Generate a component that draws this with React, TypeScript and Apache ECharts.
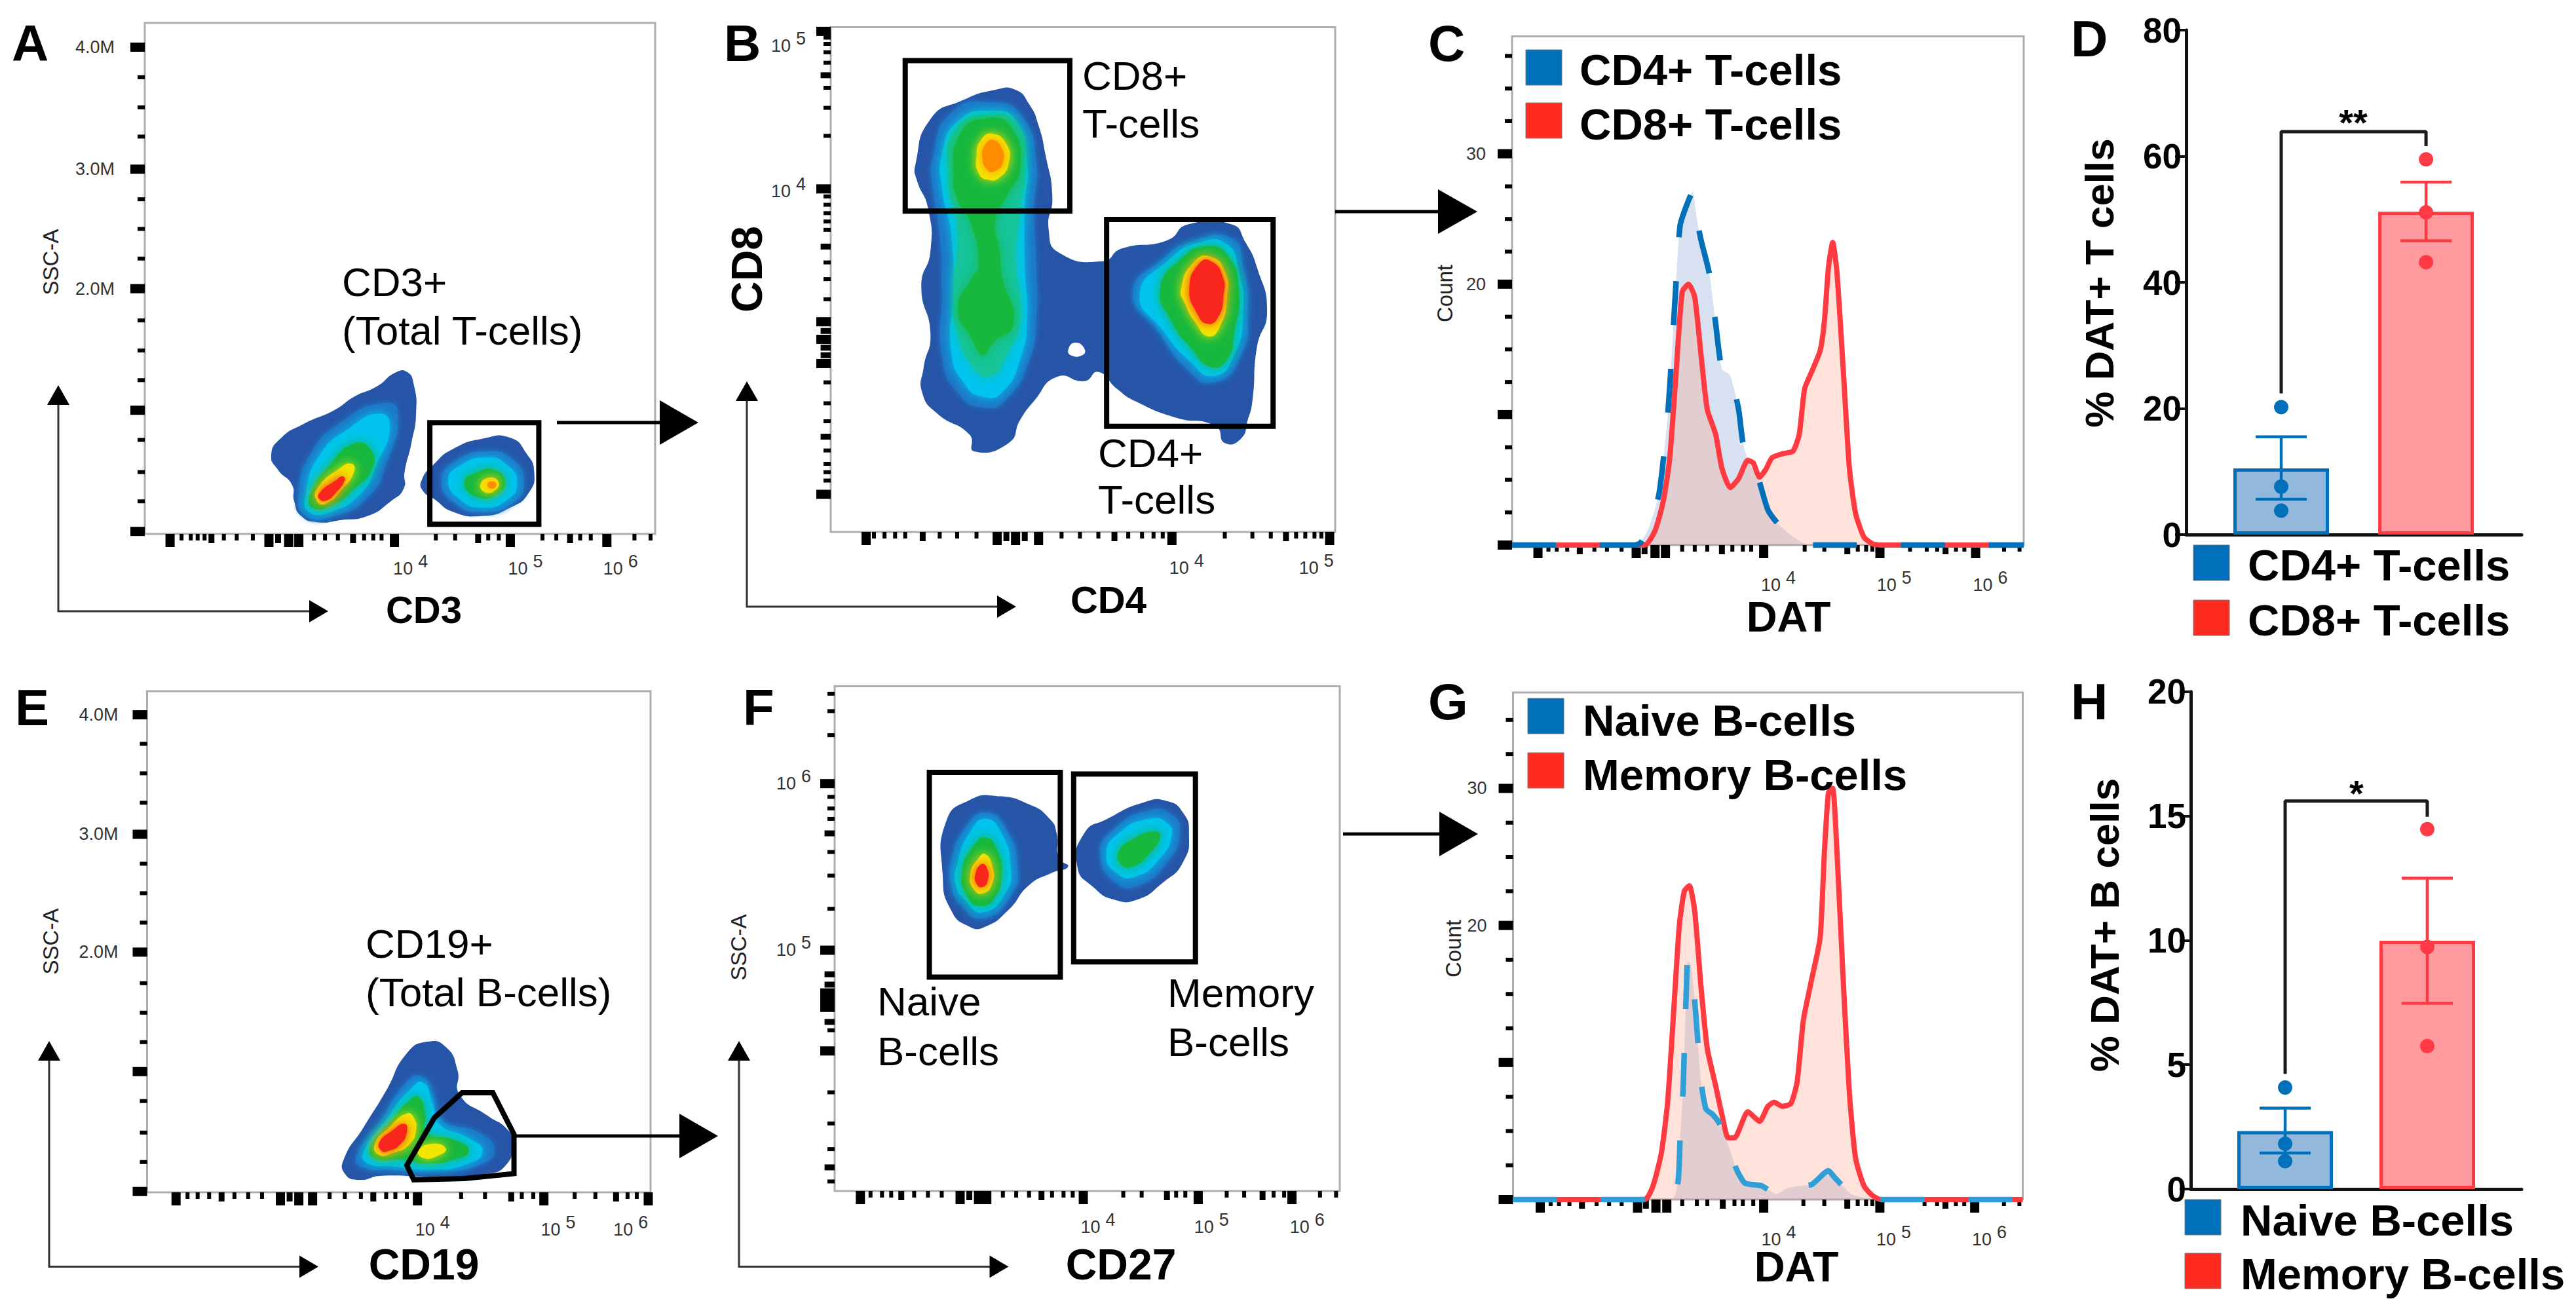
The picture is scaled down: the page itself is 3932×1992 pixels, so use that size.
import React, { useEffect, useRef } from "react";
import * as echarts from "echarts";

const FONT = '"Liberation Sans", Arial, sans-serif';
const BLUE = "#0070ba";
const RED = "#ff2a20";
const DEEP = "#2655a8", MID = "#1c78c8", CYAN = "#00c4ee", TEAL = "#12c49a", GREEN = "#14b83c", YELLOW = "#f2e600", ORANGE = "#ff8c00", SCARLET = "#f8261a";

// ---------- display-channel data ----------
type P = number[][];
const A_X_TICKS = [[370,2],[395,0],[415,0],[430,0],[445,0],[460,1],[487,0],[515,0],[550,0],[585,2],[605,1],[628,2],[650,2],[683,0],[707,0],[735,0],[768,1],[792,0],[812,0],[830,0],[858,2],[948,0],[990,0],[1040,1],[1062,0],[1085,0],[1110,2],[1180,0],[1210,0],[1240,1],[1262,0],[1285,0],[1320,2],[1380,0],[1415,0]];
const A_Y_TICKS = [[113,2],[405,2],[691,2],[982,2],[1272,2],[185,0],[257,0],[327,0],[477,0],[548,0],[619,0],[767,0],[839,0],[910,0],[1053,0],[1130,0],[1200,0]];
const A_X_LABELS: [number, string][] = [[893,"4"],[1143,"5"],[1350,"6"]];
const A_Y_LABELS: [number, string][] = [[113,"4.0M"],[405,"3.0M"],[691,"2.0M"]];
const A_BLOBS: [string, P][] = [
  [DEEP, [[590,1090],[610,1050],[660,1015],[730,980],[770,950],[820,925],[860,892],[885,890],[900,920],[905,990],[895,1060],[880,1130],[878,1170],[850,1200],[800,1235],[740,1245],[690,1250],[655,1235],[640,1200],[635,1160],[605,1125]]],
  [MID, [[650,1180],[680,1080],[750,1005],[830,965],[865,985],[840,1110],[800,1190],[725,1235],[665,1235]]],
  [CYAN, [[665,1185],[695,1090],[760,1025],[825,990],[848,1020],[820,1110],[785,1180],[720,1225],[672,1225]]],
  [GREEN, [[675,1185],[720,1110],[770,1062],[805,1075],[810,1120],[770,1170],[720,1210],[680,1215]]],
  [YELLOW, [[690,1170],[740,1120],[765,1110],[770,1130],[745,1170],[710,1205],[690,1200]]],
  [SCARLET, [[695,1180],[730,1150],[745,1140],[750,1150],[730,1180],[710,1198],[695,1195]]],
  [DEEP, [[917,1150],[945,1110],[985,1075],[1050,1050],[1110,1048],[1145,1085],[1162,1130],[1150,1180],[1110,1215],[1050,1235],[985,1225],[945,1195],[920,1175]]],
  [MID, [[960,1150],[990,1105],[1060,1080],[1115,1100],[1140,1155],[1115,1205],[1050,1225],[990,1205]]],
  [CYAN, [[975,1150],[1000,1115],[1060,1095],[1105,1115],[1125,1155],[1105,1195],[1050,1215],[1000,1195]]],
  [GREEN, [[1010,1155],[1040,1130],[1075,1125],[1098,1150],[1085,1180],[1040,1190]]],
  [YELLOW, [[1045,1160],[1065,1143],[1085,1155],[1075,1175],[1055,1178]]],
  [ORANGE, [[1060,1160],[1070,1152],[1080,1160],[1070,1170]]],
];
const A_GATES: P[] = [[[935,1012],[1172,1012],[1172,1255],[935,1255]]];

const B_X_TICKS = [[345,2],[362,0],[385,0],[408,0],[430,0],[468,1],[505,0],[543,0],[585,0],[630,2],[650,1],[670,2],[690,1],[720,2],[770,0],[810,0],[850,0],[885,1],[915,0],[945,0],[970,0],[990,0],[1010,2],[1125,0],[1185,0],[1225,0],[1258,1],[1280,0],[1300,0],[1320,0],[1335,0],[1353,2]];
const B_Y_TICKS = [[75,2],[452,2],[1183,2],[180,1],[590,1],[90,0],[105,0],[125,0],[150,0],[210,0],[258,0],[325,0],[470,0],[490,0],[510,0],[530,0],[550,0],[628,0],[668,0],[716,0],[770,2],[792,1],[812,2],[832,1],[850,1],[870,2],[915,0],[965,0],[1008,0],[1045,1],[1078,0],[1110,0],[1130,0],[1150,0]];
const B_X_LABELS: [number, string][] = [[1042,"4"],[1324,"5"]];
const B_Y_LABELS: [number, string][] = [[110,"5"],[458,"4"]];
const B_BLOBS: [string, P][] = [
  [DEEP, [[452,395],[485,285],[555,240],[625,215],[670,215],[700,250],[720,300],[735,370],[750,470],[742,550],[765,605],[860,625],[900,595],[1000,575],[1045,537],[1140,537],[1170,580],[1195,640],[1217,745],[1195,830],[1185,960],[1175,1005],[1160,1050],[1125,1060],[1105,1020],[1020,1000],[930,960],[890,930],[850,890],[820,912],[760,902],[710,960],[680,1005],[655,1060],[580,1080],[570,1040],[500,990],[467,940],[470,880],[485,800],[465,685],[485,600],[480,500],[455,430]]],
  ["#ffffff", [[785,835],[800,820],[820,835],[815,850],[790,850]]],
  [MID, [[490,380],[530,270],[620,245],[685,280],[715,390],[710,500],[715,640],[715,760],[700,860],[650,955],[600,975],[545,940],[510,850],[510,700],[505,560],[490,450]]],
  [CYAN, [[510,370],[545,290],[620,265],[670,290],[695,390],[690,490],[690,640],[695,760],[680,860],[640,940],[600,950],[560,920],[530,840],[535,700],[530,560],[510,450]]],
  [TEAL, [[525,420],[540,310],[620,275],[675,300],[690,400],[680,500],[670,620],[680,760],[650,850],[615,900],[580,880],[545,800],[535,700],[545,560]]],
  [GREEN, [[535,430],[550,320],[610,283],[660,305],[680,400],[650,470],[625,530],[635,600],[640,660],[665,775],[620,820],[600,850],[575,810],[545,740],[575,665],[590,640],[575,540],[545,480]]],
  [YELLOW, [[585,375],[595,335],[620,320],[650,345],[655,390],[635,425],[610,430],[590,415]]],
  [ORANGE, [[598,375],[605,345],[622,335],[640,355],[643,385],[628,408],[610,408]]],
  [MID, [[925,700],[990,620],[1050,580],[1140,570],[1165,640],[1175,740],[1160,850],[1100,915],[1040,880],[980,790]]],
  [CYAN, [[940,705],[1000,625],[1070,580],[1130,585],[1155,650],[1165,740],[1145,850],[1100,900],[1045,860],[990,790]]],
  [GREEN, [[985,690],[1030,620],[1085,590],[1130,610],[1155,690],[1145,800],[1130,860],[1095,878],[1050,830],[1010,770]]],
  [YELLOW, [[1030,690],[1060,625],[1095,615],[1125,650],[1130,710],[1115,780],[1090,805],[1060,770],[1040,730]]],
  [SCARLET, [[1048,690],[1070,630],[1095,625],[1120,660],[1122,710],[1110,760],[1088,775],[1065,750]]],
];
const B_GATES: P[] = [[[430,145],[788,145],[788,505],[430,505]], [[868,525],[1230,525],[1230,1020],[868,1020]]];

const E_X_TICKS = [[383,2],[408,0],[430,0],[455,0],[482,1],[510,0],[540,0],[570,0],[610,2],[630,1],[650,2],[680,2],[717,0],[750,0],[785,0],[812,1],[840,0],[860,0],[885,0],[908,2],[1003,0],[1055,0],[1112,1],[1135,0],[1160,0],[1183,2],[1250,0],[1295,0],[1340,1],[1365,0],[1385,0],[1410,2]];
const E_Y_TICKS = [[144,2],[432,2],[716,2],[1004,2],[1293,2],[214,0],[285,0],[356,0],[503,0],[574,0],[645,0],[791,0],[862,0],[933,0],[1075,0],[1151,0],[1222,0]];
const E_X_LABELS: [number, string][] = [[941,"4"],[1214,"5"],[1372,"6"]];
const E_Y_LABELS: [number, string][] = [[144,"4.0M"],[432,"3.0M"],[716,"2.0M"]];
const E_BLOBS: [string, P][] = [
  [DEEP, [[748,1215],[790,1140],[840,1050],[885,960],[930,932],[970,945],[995,1000],[1000,1060],[1060,1110],[1105,1145],[1115,1180],[1100,1230],[1060,1250],[950,1258],[830,1255],[780,1265],[750,1250]]],
  [MID, [[775,1210],[830,1120],[880,1035],[915,1015],[940,1060],[960,1120],[1040,1150],[1075,1190],[1050,1225],[950,1245],[850,1240],[790,1235]]],
  [CYAN, [[790,1200],[840,1120],[890,1050],[920,1030],[940,1080],[955,1130],[1020,1165],[1050,1195],[1020,1225],[940,1240],[850,1232],[800,1225]]],
  [GREEN, [[805,1190],[850,1125],[890,1075],[910,1065],[925,1110],[925,1150],[990,1170],[1020,1195],[990,1215],[930,1225],[870,1215],[820,1215]]],
  [YELLOW, [[815,1180],[850,1135],[885,1105],[900,1115],[905,1145],[890,1180],[855,1200],[825,1205]]],
  [YELLOW, [[910,1195],[940,1178],[970,1190],[950,1208],[920,1212]]],
  [SCARLET, [[825,1175],[855,1145],[880,1130],[885,1150],[870,1180],[845,1195],[830,1195]]],
];
const E_GATES: P[] = [[[885,1230],[945,1115],[1005,1055],[1072,1055],[1118,1155],[1118,1250],[1010,1262],[900,1265]]];

const F_X_TICKS = [[333,2],[355,0],[380,0],[400,0],[422,1],[450,0],[480,0],[510,0],[550,2],[570,1],[590,2],[608,2],[643,0],[672,0],[700,0],[727,1],[750,0],[775,0],[795,0],[818,2],[905,0],[945,0],[1000,1],[1020,0],[1040,0],[1068,2],[1130,0],[1168,0],[1208,1],[1232,0],[1255,0],[1272,2],[1333,0],[1368,0]];
const F_Y_TICKS = [[310,2],[712,2],[955,2],[430,1],[93,0],[135,0],[193,0],[342,0],[370,0],[395,0],[475,0],[532,0],[612,0],[770,1],[795,1],[815,2],[835,2],[850,2],[885,1],[905,0],[1055,0],[1130,0],[1192,0],[1236,1],[1270,0]];
const F_X_LABELS: [number, string][] = [[850,"4"],[1097,"5"],[1305,"6"]];
const F_Y_LABELS: [number, string][] = [[310,"6"],[712,"5"]];
const F_BLOBS: [string, P][] = [
  [DEEP, [[520,400],[570,350],[630,340],[700,360],[745,395],[760,430],[765,490],[785,510],[750,525],[700,555],[655,615],[605,655],[570,655],[530,615],[512,530]]],
  [MID, [[530,500],[560,420],[605,380],[650,420],[675,510],[660,580],[600,635],[550,600],[530,550]]],
  [CYAN, [[545,500],[570,430],[605,395],[640,430],[660,510],[650,570],[600,620],[560,590],[540,550]]],
  [GREEN, [[555,520],[580,460],[605,440],[630,470],[640,530],[625,585],[595,605],[565,580]]],
  [YELLOW, [[572,530],[590,490],[605,480],[620,510],[620,550],[600,575],[580,565]]],
  [SCARLET, [[583,530],[595,505],[607,510],[610,545],[597,560],[585,550]]],
  [DEEP, [[805,510],[820,430],[870,395],[950,355],[1000,352],[1035,380],[1048,430],[1035,500],[990,550],[935,590],[885,590],[840,560]]],
  [MID, [[855,480],[885,420],[960,375],[1010,385],[1028,430],[1000,500],[940,555],[890,550]]],
  [CYAN, [[868,480],[895,430],[960,395],[1000,405],[1010,435],[985,490],[930,535],[890,525]]],
  [GREEN, [[895,475],[925,445],[975,425],[985,440],[960,480],[925,510],[900,505]]],
];
const F_GATES: P[] = [[[483,283],[768,283],[768,777],[483,777]], [[797,287],[1062,287],[1062,740],[797,740]]];

const C_X_TICKS = [[310,2],[335,0],[355,0],[380,0],[410,1],[445,0],[475,0],[510,0],[545,2],[565,1],[590,2],[615,2],[655,0],[685,0],[715,0],[750,1],[775,0],[800,0],[820,0],[850,2],[948,0],[995,0],[1050,1],[1075,0],[1095,0],[1110,0],[1128,2],[1200,0],[1240,0],[1265,0],[1285,1],[1310,0],[1330,0],[1357,2],[1425,0],[1462,0]];
const C_Y_TICKS = [[0,2],[10,2],[20,2],[30,2],[2.5,0],[5,0],[7.5,0],[12.5,0],[15,0],[17.5,0],[22.5,0],[25,0],[27.5,0],[32.5,0],[35,0],[37.5,0]];
const C_X_LABELS: [number, string][] = [[885,"4"],[1162,"5"],[1392,"6"]];
const C_Y_LABELS: [number, string][] = [[20,"20"],[30,"30"]];
const C_CD4: P = [[248,0],[540,0],[555,0.16],[575,1.3],[600,4],[620,9.8],[630,14.6],[640,20],[650,24.5],[665,26],[680,27.1],[690,25],[700,23.4],[720,20.8],[735,17],[750,13.5],[770,13],[790,10.4],[800,7.9],[815,6.3],[835,5.3],[860,2.7],[885,1.6],[920,0.64],[960,0],[1472,0]];
const C_CD8: P = [[248,0],[565,0],[590,1.1],[610,3.4],[625,6.6],[640,13],[655,19.4],[670,20],[685,19],[700,14.6],[715,10.4],[735,8.5],[750,5.9],[770,4.4],[790,5.1],[812,6.5],[825,6.3],[840,5.2],[855,5.8],[870,6.7],[895,7],[920,7.2],[935,8.5],[948,12],[965,13.3],[985,14.9],[995,17.1],[1005,21.3],[1015,23.2],[1025,21],[1040,13.6],[1055,5.9],[1070,2.4],[1090,0.6],[1110,0.1],[1130,0],[1472,0]];

const G_X_TICKS = [[315,2],[340,0],[360,0],[385,0],[415,1],[450,0],[480,0],[510,0],[548,2],[568,1],[592,2],[618,2],[655,0],[690,0],[715,0],[752,1],[780,0],[800,0],[825,0],[850,2],[945,0],[995,0],[1050,1],[1075,0],[1095,0],[1110,0],[1128,2],[1235,0],[1265,0],[1285,1],[1310,0],[1330,0],[1355,2],[1425,0],[1462,0]];
const G_Y_TICKS = [[0,2],[10,2],[20,2],[30,2],[2.5,0],[5,0],[7.5,0],[12.5,0],[15,0],[17.5,0],[22.5,0],[25,0],[27.5,0],[32.5,0],[35,0]];
const G_X_LABELS: [number, string][] = [[886,"4"],[1161,"5"],[1390,"6"]];
const G_Y_LABELS: [number, string][] = [[20,"20"],[30,"30"]];
const G_NAIVE: P = [[250,0],[630,0],[645,1.3],[650,4.5],[657,8],[660,11],[665,15.5],[668,17.4],[675,17.2],[682,15.5],[690,12.5],[700,8.6],[712,6.6],[728,6.2],[745,5.5],[765,4],[785,2.2],[805,1.2],[845,1],[880,0.4],[905,0.8],[935,1],[965,1.1],[1005,2.1],[1020,1.6],[1060,0.4],[1105,0.06],[1125,0],[1470,0]];
const G_MEMORY: P = [[250,0],[565,0],[585,1],[605,3.4],[620,7.1],[635,14],[648,20],[660,22.5],[672,22.9],[685,21],[700,15.5],[715,11],[735,8.3],[750,6.2],[765,4.5],[780,4.5],[812,6.4],[840,5.7],[860,6.8],[875,7.1],[895,6.8],[915,7],[930,8.6],[945,13.1],[965,16.1],[985,19.1],[995,25.2],[1005,29.7],[1015,30],[1025,25.6],[1040,16.2],[1055,7.8],[1070,3],[1090,1],[1110,0.3],[1130,0],[1470,0]];

// bar panels
const D_MEANS = [10.5, 51.2];
const D_ERRORS = [[5.6, 15.5], [46.6, 55.9]];
const D_POINTS = [[20.2, 7.6, 3.8], [59.5, 51.1, 43.2]];
const D_BRACKET = [[1, 22.4], [1, 63.9], [2, 63.9], [2, 61.6]];
const H_MEANS = [2.33, 9.98];
const H_ERRORS = [[1.45, 3.25], [7.47, 12.5]];
const H_POINTS = [[4.08, 1.82, 1.12], [14.47, 9.73, 5.75]];
const H_BRACKET = [[1, 4.63], [1, 15.6], [2, 15.6], [2, 14.97]];

// ---------- layout ----------
const FRAME = {
  A: { l: 221, t: 35, r: 1000, b: 815, x: [315, 1425], y: [55, 1278] },
  B: { l: 1268, t: 41.5, r: 2038, b: 812, x: [268, 1365], y: [65, 1273] },
  C: { l: 2308, t: 55.5, r: 3089, b: 832, x: [248, 1472], y: [0, 39] },
  E: { l: 224.5, t: 1055, r: 993, b: 1820, x: [320, 1415], y: [87, 1295] },
  F: { l: 1274, t: 1047.5, r: 2045, b: 1818, x: [277, 1376], y: [75, 1293] },
  G: { l: 2309.5, t: 1057, r: 3087.5, b: 1831, x: [250, 1470], y: [0, 37] },
};

const TICK_SIZE = [[6, 10], [9, 14], [14, 20]];

function App() {
  const ref = useRef<HTMLDivElement>(null);
  useEffect(() => {
    const chart = echarts.init(ref.current!, null, { renderer: "svg" });
    const grids: any[] = [], xAxes: any[] = [], yAxes: any[] = [], series: any[] = [];

    const decade = (e: string) => `{b|10}{s|${e}}`;
    const sup = { b: { fontSize: 27, color: "#333", fontFamily: FONT }, s: { fontSize: 27, color: "#333", fontFamily: FONT, padding: [0, 0, 22, 8] } };

    function flowPanel(f: any, o: { xT: P; yT: P; xL: [number, string][]; yL: [number, string][]; yDecade?: boolean; inverse: boolean; lm: number; xm: number }) {
      const i = grids.length;
      grids.push({ left: f.l, top: f.t, width: f.r - f.l, height: f.b - f.t, show: true, borderColor: "#adadad", borderWidth: 3, backgroundColor: "transparent" });
      const xMap = new Map(o.xL), yMap = new Map(o.yL);
      xAxes.push({
        gridIndex: i, type: "value", min: f.x[0], max: f.x[1], splitLine: { show: false }, axisLine: { show: false }, axisTick: { show: false },
        axisLabel: { customValues: o.xL.map((d) => d[0]), margin: o.xm, formatter: (v: number) => decade(xMap.get(v) ?? ""), rich: sup },
      });
      yAxes.push({
        gridIndex: i, type: "value", min: f.y[0], max: f.y[1], inverse: o.inverse, splitLine: { show: false }, axisLine: { show: false }, axisTick: { show: false },
        axisLabel: {
          customValues: o.yL.map((d) => d[0]), margin: o.lm, fontSize: 27, color: "#333", fontFamily: FONT,
          formatter: (v: number) => (o.yDecade ? decade(yMap.get(v) ?? "") : yMap.get(v) ?? ""), rich: sup,
        },
      });
      series.push({
        type: "custom", xAxisIndex: i, yAxisIndex: i, silent: true, data: o.xT,
        renderItem: (p: any, api: any) => {
          const [w, h] = TICK_SIZE[api.value(1)];
          const x = api.coord([api.value(0), f.y[0]])[0];
          return { type: "rect", shape: { x: x - w / 2, y: p.coordSys.y + p.coordSys.height, width: w, height: h }, style: { fill: "#000" } };
        },
      });
      series.push({
        type: "custom", xAxisIndex: i, yAxisIndex: i, silent: true, data: o.yT.map((d) => [f.x[0], d[0], d[1]]), encode: { x: 0, y: 1 },
        renderItem: (p: any, api: any) => {
          const [h, w] = TICK_SIZE[api.value(2)];
          const y = api.coord([f.x[0], api.value(1)])[1];
          return { type: "rect", shape: { x: p.coordSys.x - w * 1.1, y: y - h / 2, width: w * 1.1, height: h }, style: { fill: "#000" } };
        },
      });
      return i;
    }

    function contours(i: number, blobs: [string, P][], gates: P[]) {
      series.push({
        type: "custom", xAxisIndex: i, yAxisIndex: i, silent: true, data: blobs.map((_, k) => [k]), encode: { x: 0 },
        renderItem: (p: any, api: any) => {
          const [fill, pts] = blobs[p.dataIndex];
          const soft = fill !== DEEP && fill !== "#ffffff";
          return {
            type: "polygon", shape: { points: pts.map((q) => api.coord(q)), smooth: 0.55 },
            style: { fill, ...(soft ? { shadowBlur: fill === MID ? 10 : 16, shadowColor: fill } : {}) },
          };
        },
      });
      series.push({
        type: "custom", xAxisIndex: i, yAxisIndex: i, silent: true, z: 4, data: gates.map((_, k) => [k]), encode: { x: 0 },
        renderItem: (p: any, api: any) => ({
          type: "polygon", shape: { points: gates[p.dataIndex].map((q) => api.coord(q)) },
          style: { fill: "none", stroke: "#000", lineWidth: 8, lineJoin: "miter" },
        }),
      });
    }

    function histogram(i: number, solid: P, dashed: P, dashColor: string, solidFill: string, dashFill: string) {
      series.push({ type: "line", xAxisIndex: i, yAxisIndex: i, data: dashed, showSymbol: false, smooth: 0.2, clip: false, lineStyle: { width: 0 }, areaStyle: { color: dashFill }, z: 2 });
      series.push({ type: "line", xAxisIndex: i, yAxisIndex: i, data: solid, showSymbol: false, smooth: 0.2, clip: false, lineStyle: { color: "#ff3a40", width: 8 }, areaStyle: { color: solidFill }, z: 3 });
      series.push({ type: "line", xAxisIndex: i, yAxisIndex: i, data: dashed, showSymbol: false, smooth: 0.2, clip: false, lineStyle: { color: dashColor, width: 8.5, type: [67, 67] }, z: 4 });
    }

    function barPanel(l: number, t: number, r: number, b: number, xr: number[], ymax: number, step: number, means: number[], errs: number[][], pts: number[][], bracket: P) {
      const i = grids.length;
      grids.push({ left: l, top: t, width: r - l, height: b - t });
      xAxes.push({ gridIndex: i, type: "value", min: xr[0], max: xr[1], splitLine: { show: false }, axisTick: { show: false }, axisLabel: { show: false }, axisLine: { lineStyle: { color: "#111", width: 5 } } });
      yAxes.push({
        gridIndex: i, type: "value", min: 0, max: ymax, interval: step, splitLine: { show: false },
        axisLine: { show: true, lineStyle: { color: "#111", width: 5 } }, axisTick: { length: 17, lineStyle: { color: "#111", width: 4 } },
        axisLabel: { fontSize: 53, fontWeight: "bold", color: "#000", margin: 7, fontFamily: FONT },
      });
      const stroke = [BLUE, "#ff3a44"], fill = ["#92b8db", "#ff9a9f"];
      series.push({
        type: "bar", xAxisIndex: i, yAxisIndex: i, barWidth: 146,
        data: means.map((m, k) => ({ value: [k + 1, m], itemStyle: { color: fill[k], borderColor: stroke[k], borderWidth: 5 } })),
      });
      series.push({
        type: "custom", xAxisIndex: i, yAxisIndex: i, silent: true, z: 5, data: errs.map((e, k) => [k + 1, e[0], e[1]]), encode: { x: 0, y: [1, 2] },
        renderItem: (p: any, api: any) => {
          const x = api.value(0), c = stroke[p.dataIndex];
          const lo = api.coord([x, api.value(1)]), hi = api.coord([x, api.value(2)]);
          const line = (a: number[], q: number[]) => ({ type: "line", shape: { x1: a[0], y1: a[1], x2: q[0], y2: q[1] }, style: { stroke: c, lineWidth: 4.5 } });
          return {
            type: "group",
            children: [line(lo, hi), line([lo[0] - 39, lo[1]], [lo[0] + 39, lo[1]]), line([hi[0] - 39, hi[1]], [hi[0] + 39, hi[1]])],
          };
        },
      });
      pts.forEach((vals, k) =>
        series.push({ type: "scatter", xAxisIndex: i, yAxisIndex: i, symbolSize: 22, z: 6, itemStyle: { color: stroke[k], opacity: 1 }, data: vals.map((v) => [k + 1, v]) }),
      );
      series.push({ type: "line", xAxisIndex: i, yAxisIndex: i, data: bracket, showSymbol: false, z: 6, lineStyle: { color: "#1a1a1a", width: 5 } });
    }

    const a = flowPanel(FRAME.A, { xT: A_X_TICKS, yT: A_Y_TICKS, xL: A_X_LABELS, yL: A_Y_LABELS, inverse: true, lm: 46, xm: 28 });
    contours(a, A_BLOBS, A_GATES);
    const b = flowPanel(FRAME.B, { xT: B_X_TICKS, yT: B_Y_TICKS, xL: B_X_LABELS, yL: B_Y_LABELS, yDecade: true, inverse: true, lm: 38, xm: 30 });
    contours(b, B_BLOBS, B_GATES);
    const c = flowPanel(FRAME.C, { xT: C_X_TICKS, yT: C_Y_TICKS, xL: C_X_LABELS, yL: C_Y_LABELS, inverse: false, lm: 40, xm: 36 });
    histogram(c, C_CD8, C_CD4, BLUE, "rgba(255,150,120,0.38)", "rgba(130,160,215,0.45)");
    barPanel(3337, 46, 3849, 816, [0.344, 2.66], 80, 20, D_MEANS, D_ERRORS, D_POINTS, D_BRACKET);
    const e = flowPanel(FRAME.E, { xT: E_X_TICKS, yT: E_Y_TICKS, xL: E_X_LABELS, yL: E_Y_LABELS, inverse: true, lm: 44, xm: 32 });
    contours(e, E_BLOBS, E_GATES);
    const f = flowPanel(FRAME.F, { xT: F_X_TICKS, yT: F_Y_TICKS, xL: F_X_LABELS, yL: F_Y_LABELS, yDecade: true, inverse: true, lm: 36, xm: 30 });
    contours(f, F_BLOBS, F_GATES);
    const g = flowPanel(FRAME.G, { xT: G_X_TICKS, yT: G_Y_TICKS, xL: G_X_LABELS, yL: G_Y_LABELS, inverse: false, lm: 40, xm: 36 });
    histogram(g, G_MEMORY, G_NAIVE, "#2f9fd8", "rgba(255,150,120,0.38)", "rgba(130,160,215,0.45)");
    barPanel(3344, 1055.7, 3849, 1815, [0.336, 2.664], 20, 5, H_MEANS, H_ERRORS, H_POINTS, H_BRACKET);

    // annotation layer
    const text = (t: string, x: number, y: number, size: number, bold: boolean, align = "left", rot = 0, color = "#000") => ({
      type: "text", x, y, rotation: rot, z: 100,
      style: { text: t, fontSize: size, fontWeight: bold ? "bold" : "normal", fontFamily: FONT, fill: color, align, verticalAlign: "middle" },
    });
    const up = Math.PI / 2;
    const gfx: any[] = [];
    ([["A", 18, 66], ["B", 1105, 66], ["C", 2180, 66], ["D", 3161, 59], ["E", 23, 1080], ["F", 1134, 1080], ["G", 2180, 1071], ["H", 3161, 1071]] as [string, number, number][]).forEach(([t, x, y]) => gfx.push(text(t, x, y, 78, true)));
    gfx.push(
      text("CD3+", 522, 430, 62, false), text("(Total T-cells)", 522, 504, 62, false),
      text("CD8+", 1652, 115, 62, false), text("T-cells", 1652, 188, 62, false),
      text("CD4+", 1676, 691, 62, false), text("T-cells", 1676, 762, 62, false),
      text("CD19+", 558, 1440, 62, false), text("(Total B-cells)", 558, 1514, 62, false),
      text("Naive", 1339, 1528, 62, false), text("B-cells", 1339, 1604, 62, false),
      text("Memory", 1782, 1515, 62, false), text("B-cells", 1782, 1590, 62, false),
      text("CD3", 647, 930, 58, true, "center"), text("CD4", 1692, 915, 58, true, "center"),
      text("DAT", 2730, 941, 65, true, "center"), text("DAT", 2742, 1933, 65, true, "center"),
      text("CD19", 647, 1930, 66, true, "center"), text("CD27", 1711, 1930, 66, true, "center"),
      text("CD8", 1140, 411, 66, true, "center", up),
      text("SSC-A", 77, 400, 33, false, "center", up, "#222"), text("SSC-A", 77, 1437, 33, false, "center", up, "#222"), text("SSC-A", 1127, 1446, 33, false, "center", up, "#222"),
      text("Count", 2205, 448, 33, false, "center", up, "#222"), text("Count", 2218, 1448, 33, false, "center", up, "#222"),
      text("% DAT+ T cells", 3204, 432, 62, true, "center", up), text("% DAT+ B cells", 3212, 1412, 62, true, "center", up),
      text("**", 3592, 186, 56, true, "center"), text("*", 3597, 1210, 56, true, "center"),
    );
    const legend = (x: number, tx: number, items: [string, string, number, number][]) =>
      items.forEach(([t, col, sy, ty]) => {
        gfx.push({ type: "rect", z: 100, shape: { x, y: sy, width: 55, height: 54 }, style: { fill: col, stroke: "#777", lineWidth: 1 } });
        gfx.push(text(t, tx, ty, 67, true));
      });
    legend(2329, 2411, [["CD4+ T-cells", BLUE, 76, 106], ["CD8+ T-cells", RED, 157, 189]]);
    legend(3348, 3431, [["CD4+ T-cells", BLUE, 832, 862], ["CD8+ T-cells", RED, 916, 946]]);
    legend(2332, 2416, [["Naive B-cells", BLUE, 1066, 1099], ["Memory B-cells", RED, 1149, 1182]]);
    legend(3335, 3420, [["Naive B-cells", BLUE, 1831, 1862], ["Memory B-cells", RED, 1913, 1944]]);

    const arrow = (x0: number, x1: number, tip: number, y: number) => {
      gfx.push({ type: "line", z: 99, shape: { x1: x0, y1: y, x2: x1, y2: y }, style: { stroke: "#000", lineWidth: 5 } });
      gfx.push({ type: "polygon", z: 99, shape: { points: [[x1, y - 34], [tip, y], [x1, y + 34]] }, style: { fill: "#000" } });
    };
    arrow(850, 1007, 1066, 645);
    arrow(2038, 2195, 2255, 323);
    arrow(782, 1037, 1096, 1734);
    arrow(2050, 2197, 2256, 1273);
    const corner = (x: number, y: number, top: number, tip: number) => {
      gfx.push({ type: "polyline", z: 99, shape: { points: [[x, top + 28], [x, y], [tip - 28, y]] }, style: { stroke: "#333", lineWidth: 3, fill: "none" } });
      gfx.push({ type: "polygon", z: 99, shape: { points: [[x - 17, top + 30], [x, top], [x + 17, top + 30]] }, style: { fill: "#000" } });
      gfx.push({ type: "polygon", z: 99, shape: { points: [[tip - 29, y - 17], [tip, y], [tip - 29, y + 17]] }, style: { fill: "#000" } });
    };
    corner(89, 933, 588, 501);
    corner(1140, 926, 582, 1551);
    corner(75, 1933.5, 1589, 486);
    corner(1128, 1933.5, 1589, 1539.5);

    chart.setOption({
      animation: false,
      backgroundColor: "#fff",
      textStyle: { fontFamily: FONT },
      grid: grids, xAxis: xAxes, yAxis: yAxes, series, graphic: { elements: gfx },
    });
    return () => chart.dispose();
  }, []);
  return <div ref={ref} style={{ position: "fixed", left: 0, top: 0, width: 3932, height: 1992 }} />;
}

export default App;
